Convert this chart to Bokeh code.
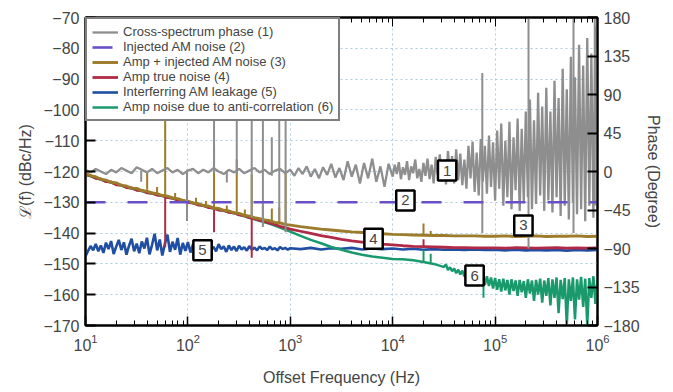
from bokeh.plotting import figure
from bokeh.models import (Range1d, LinearAxis, LogAxis, FixedTicker, Legend, LegendItem,
                          Label, CustomJSTickFormatter)
from bokeh.embed import file_html
from bokeh.resources import INLINE

# ---------------- data ----------------
# (1) Cross-spectrum phase, degrees (right axis)
GRAY_LOGF = [1.00, 1.05, 1.10, 1.15, 1.20, 1.25, 1.30, 1.35, 1.40, 1.45,
             1.50, 1.55, 1.60, 1.65, 1.70, 1.75, 1.80, 1.85, 1.90, 1.95,
             2.00, 2.05, 2.10, 2.15, 2.20, 2.25, 2.30, 2.35, 2.40, 2.45,
             2.50, 2.55, 2.60, 2.65, 2.70, 2.75, 2.80, 2.85, 2.90, 2.95,
             3.00, 3.04, 3.08, 3.12, 3.16, 3.20, 3.24, 3.28, 3.32, 3.36,
             3.40, 3.44, 3.48, 3.52, 3.56, 3.60, 3.64, 3.68, 3.72, 3.76,
             3.80, 3.84, 3.88, 3.92, 3.96,
             4.00, 4.02, 4.04, 4.06, 4.08, 4.10, 4.12, 4.14, 4.16, 4.18,
             4.20, 4.22, 4.24, 4.26, 4.28, 4.30, 4.32, 4.34, 4.36, 4.38,
             4.40, 4.42, 4.44, 4.46, 4.48, 4.50, 4.52, 4.54, 4.56, 4.58,
             4.60, 4.62, 4.64, 4.66, 4.68, 4.70, 4.72, 4.74, 4.76, 4.78,
             4.80, 4.82, 4.84, 4.86, 4.88, 4.90, 4.92, 4.94, 4.96, 4.98,
             5.00, 5.02, 5.04, 5.06, 5.08, 5.10, 5.12, 5.14, 5.16, 5.18,
             5.20, 5.22, 5.24, 5.26, 5.28, 5.30, 5.32, 5.34, 5.36, 5.38,
             5.40, 5.42, 5.44, 5.46, 5.48, 5.50, 5.52, 5.54, 5.56, 5.58,
             5.60, 5.62, 5.64, 5.66, 5.68, 5.70, 5.72, 5.74, 5.76, 5.78,
             5.80, 5.82, 5.84, 5.86, 5.88, 5.90, 5.92, 5.94, 5.96, 5.98,
             6.00]
GRAY_DEG = [2, -1, 3, 0, -3, 2, -1, 4, 1, -2,
            5, 2, -1, 3, -2, 1, 4, -1, 2, -3,
            1, 3, -2, 2, -1, 4, 0, -3, 2, -1,
            3, -2, 1, 4, -1, 2, -3, 1, 3, -2,
            2, -5, 4, -3, 6, -6, 3, -8, 5, -4,
            9, -7, 4, -10, 12, -6, 8, -14, 10, -8,
            15, -12, 6, -18, 9,
            -6, 8, -3, 11, -9, 5, -4, 12, -10, 6,
            -2, 14, -8, 3, -12, 10, -5, 15, -9, 8,
            -14, 17, -4, 20, -12, 12, -15, 24, -6, 18,
            -14, 26, -10, 21, -16, 14, -20, 30, -8, 35,
            -24, 22, -28, 38, -12, 30, -26, 42, -18, 34,
            -34, 48, -20, 56, -40, 36, -30, 58, -44, 40,
            -22, 62, -46, 50, -36, 70, -30, 84, -44, 60,
            -38, 92, -28, 76, -46, 98, -34, 70, -48, 106,
            -30, 86, -52, 120, -40, 96, -56, 134, -36, 110,
            -50, 148, -44, 124, -58, 156, -40, 138, -54, 170,
            -30]
GRAY_SPIKE_F = [35, 98, 180, 240, 300, 420, 540, 660, 780, 900,
                75000, 212000, 583000, 940000]
GRAY_SPIKE_HI = [1, 2, 180, 1, 180, 180, 180, 40, 180, 180, 115, 180, 180, 180]
GRAY_SPIKE_LO = [-12, -58, -2, -13, -3, -54, -65, -5, -58, -71, -72, -90, -72, -40]

# (2) Injected AM noise, dBc/Hz
PURPLE_F = [10, 1000000]
PURPLE_DB = [-130, -130]

# (3) Amp + injected AM noise and (4) Amp true noise, dBc/Hz
AMP_LOGF = [1.00, 1.05, 1.10, 1.15, 1.20, 1.25, 1.30, 1.35, 1.40, 1.45,
            1.50, 1.55, 1.60, 1.65, 1.70, 1.75, 1.80, 1.85, 1.90, 1.95,
            2.00, 2.05, 2.10, 2.15, 2.20, 2.25, 2.30, 2.35, 2.40, 2.45,
            2.50, 2.55, 2.60, 2.65, 2.70, 2.75, 2.80, 2.85, 2.90, 2.95,
            3.00, 3.1, 3.2, 3.3, 3.4, 3.5, 3.6, 3.7, 3.8, 3.9,
            4.0, 4.1, 4.2, 4.3, 4.4, 4.5, 4.6, 4.7, 4.8, 4.9,
            5.0, 5.1, 5.2, 5.3, 5.4, 5.5, 5.6, 5.7, 5.8, 5.9, 6.0]
GOLD_DB = [-120.6, -121.4, -121.7, -122.5, -122.8, -123.5, -123.7, -124.5, -124.7, -125.4,
           -125.5, -126.2, -126.4, -127.0, -127.2, -127.8, -128.0, -128.6, -128.8, -129.4,
           -129.6, -130.2, -130.4, -131.0, -131.2, -131.8, -132.0, -132.6, -132.8, -133.4,
           -133.6, -134.2, -134.5, -135.0, -135.3, -135.7, -136.0, -136.5, -136.7, -137.2,
           -137.4, -137.9, -138.3, -138.7, -139.0, -139.3, -139.6, -139.8, -140.0, -140.2,
           -140.4, -140.5, -140.6, -140.7, -140.8, -140.8, -140.9, -140.9, -140.9, -141.0,
           -141.0, -140.9, -141.1, -141.0, -140.9, -141.1, -141.0, -141.0, -140.9, -141.1, -141.0]
RED_DB = [-121.0, -121.3, -122.2, -122.4, -123.3, -123.4, -124.3, -124.4, -125.2, -125.3,
          -126.1, -126.1, -126.9, -127.0, -127.7, -127.8, -128.5, -128.6, -129.3, -129.4,
          -130.1, -130.2, -130.9, -131.0, -131.7, -131.8, -132.5, -132.6, -133.3, -133.4,
          -134.1, -134.3, -135.0, -135.3, -135.9, -136.2, -136.8, -137.2, -137.8, -138.2,
          -138.7, -139.4, -140.1, -140.8, -141.4, -142.0, -142.5, -142.9, -143.3, -143.6,
          -143.8, -144.1, -144.3, -144.4, -144.5, -144.6, -144.7, -144.7, -144.8, -144.8,
          -144.8, -144.9, -144.7, -144.8, -144.9, -144.8, -144.7, -144.9, -144.8, -144.9, -144.8]
GOLD_SPIKE_F = [40, 50, 60, 75, 120, 150, 180, 240, 300, 360, 420, 540, 660, 780, 900, 20000, 23500]
GOLD_SPIKE_LO = [-125.9, -127.2, -128.0, -128.8, -130.9, -131.7, -132.3, -133.2, -133.9, -134.5,
                 -135.0, -135.7, -136.3, -136.7, -137.2, -140.7, -140.7]
GOLD_SPIKE_HI = [-120.0, -125.0, -70.0, -127.0, -128.5, -129.6, -112.0, -131.0, -116.0, -132.3,
                 -121.0, -131.0, -132.0, -131.7, -120.6, -136.9, -139.3]
RED_SPIKE_F = [60, 180, 420, 20000]
RED_SPIKE_A = [-128.4, -132.4, -135.5, -144.4]
RED_SPIKE_B = [-144.6, -139.7, -148.0, -142.0]

# (5) Interferring AM leakage, dBc/Hz
BLUE_LOGF = [1.000, 1.025, 1.050, 1.075, 1.100, 1.125, 1.150, 1.175, 1.200, 1.225,
             1.250, 1.275, 1.300, 1.325, 1.350, 1.375, 1.400, 1.425, 1.450, 1.475,
             1.500, 1.525, 1.550, 1.575, 1.600, 1.625, 1.650, 1.675, 1.700, 1.725,
             1.750, 1.775, 1.800, 1.825, 1.850, 1.875, 1.900, 1.925, 1.950, 1.975,
             2.000, 2.025, 2.050, 2.075, 2.100, 2.125, 2.150, 2.175, 2.200, 2.225,
             2.250, 2.275, 2.300, 2.325, 2.350, 2.375, 2.400, 2.425, 2.450, 2.475,
             2.500, 2.525, 2.550, 2.575, 2.600, 2.625, 2.650, 2.675, 2.700, 2.725,
             2.750, 2.775, 2.800, 2.825, 2.850, 2.875, 2.900, 2.925, 2.950, 2.975,
             3.000, 3.1, 3.2, 3.3, 3.4, 3.5, 3.6, 3.7, 3.8, 3.9,
             4.0, 4.1, 4.2, 4.3, 4.4, 4.5, 4.6, 4.7, 4.8, 4.9,
             5.0, 5.1, 5.2, 5.3, 5.4, 5.5, 5.6, 5.7, 5.8, 5.9, 6.0]
BLUE_DB = [-147.5, -145.8, -144.2, -145.6, -143.5, -145.9, -144.0, -146.4, -143.1, -145.2,
           -142.6, -146.8, -144.4, -142.2, -145.5, -143.0, -147.0, -144.1, -141.8, -145.9,
           -143.4, -146.5, -142.7, -145.0, -141.5, -146.9, -143.8, -140.2, -145.6, -142.1,
           -147.3, -143.5, -140.5, -146.1, -142.8, -145.4, -141.6, -147.0, -143.2, -145.8,
           -142.9, -146.3, -143.6, -145.1, -143.9, -145.6, -144.2, -146.0, -143.8, -145.4,
           -144.5, -145.9, -143.6, -145.2, -144.3, -146.1, -144.0, -145.5, -144.4, -145.8,
           -144.1, -145.3, -144.6, -145.7, -144.2, -145.4, -144.7, -145.6, -144.3, -145.2,
           -144.8, -145.5, -144.4, -145.3, -144.9, -145.6, -144.5, -145.2, -144.8, -145.4,
           -144.9, -145.2, -144.8, -145.3, -144.9, -145.1, -144.8, -145.3, -145.0, -145.2,
           -145.0, -145.3, -145.1, -145.4, -145.2, -145.4, -145.3, -145.5, -145.3, -145.5,
           -145.4, -145.6, -145.4, -145.6, -145.5, -145.6, -145.5, -145.7, -145.5, -145.6, -145.5]

# (6) Amp noise due to anti-correlation, dBc/Hz
GREEN_LOGF = [1.0, 1.1, 1.2, 1.3, 1.4, 1.5, 1.6, 1.7, 1.8, 1.9,
              2.0, 2.1, 2.2, 2.3, 2.4, 2.5, 2.6, 2.7, 2.8, 2.9,
              3.0, 3.1, 3.2, 3.3, 3.4, 3.5, 3.6, 3.7, 3.8, 3.9,
              4.0, 4.1, 4.2, 4.3, 4.4, 4.48,
              4.50, 4.52, 4.54, 4.56, 4.58, 4.60, 4.62, 4.64, 4.66, 4.68,
              4.70, 4.72, 4.74, 4.76, 4.78, 4.80, 4.82, 4.84, 4.86, 4.88,
              4.90, 4.92, 4.94, 4.96, 4.98, 5.00, 5.02, 5.04, 5.06, 5.08,
              5.10, 5.12, 5.14, 5.16, 5.18, 5.20, 5.22, 5.24, 5.26, 5.28,
              5.30, 5.32, 5.34, 5.36, 5.38, 5.40, 5.42, 5.44, 5.46, 5.48,
              5.50, 5.52, 5.54, 5.56, 5.58, 5.60, 5.62, 5.64, 5.66, 5.68,
              5.70, 5.72, 5.74, 5.76, 5.78, 5.80, 5.82, 5.84, 5.86, 5.88,
              5.90, 5.92, 5.94, 5.96, 5.98, 6.00]
GREEN_DB = [-121.0, -122.1, -123.2, -124.1, -125.1, -125.9, -126.8, -127.6, -128.4, -129.2,
            -129.9, -130.7, -131.6, -132.4, -133.2, -134.0, -135.0, -136.0, -137.0, -138.2,
            -139.5, -140.9, -142.2, -143.3, -144.5, -145.4, -146.3, -147.0, -147.6, -148.0,
            -148.4, -148.5, -148.8, -149.4, -150.0, -150.8,
            -151.0, -150.2, -152.0, -151.1, -152.4, -151.5, -153.0, -151.9, -153.4, -152.2,
            -154.0, -152.5, -154.3, -152.8, -155.2, -153.0, -155.6, -153.4, -156.0, -153.2,
            -156.8, -154.0, -157.2, -154.4, -158.0, -154.6, -158.4, -155.0, -159.0, -154.8,
            -158.6, -155.2, -160.0, -155.0, -158.8, -155.4, -160.4, -155.2, -159.2, -155.6,
            -161.0, -155.0, -159.6, -155.4, -162.0, -155.2, -160.0, -154.8, -162.6, -155.4,
            -160.4, -154.6, -163.5, -155.0, -161.0, -154.4, -166.0, -155.2, -161.4, -154.6,
            -170.0, -155.0, -162.0, -154.4, -168.0, -155.0, -161.6, -154.2, -164.0, -154.8,
            -170.0, -154.6, -161.0, -154.0, -163.0, -155.0]
GREEN_SPIKE_F = [20000, 23500, 77000]
GREEN_SPIKE_A = [-149.4, -149.8, -155.0]
GREEN_SPIKE_B = [-145.5, -146.7, -161.0]

# callout numbers
CALLOUT_TEXT = ["1", "2", "3", "4", "5", "6"]
CALLOUT_F = [34000, 13300, 189000, 6500, 139, 63000]
CALLOUT_DB = [-119.7, -129.4, -137.5, -141.8, -145.6, -153.8]

LEGEND_LABELS = ["Cross-spectrum phase (1)", "Injected AM noise (2)",
                 "Amp + injected AM noise (3)", "Amp true noise (4)",
                 "Interferring AM leakage (5)", "Amp noise due to anti-correlation (6)"]

X_MAJOR = [10, 100, 1000, 10000, 100000, 1000000]
X_MINOR = [m * d for d in [10, 100, 1000, 10000, 100000] for m in range(2, 10)]
Y_TICKS = [-170, -160, -150, -140, -130, -120, -110, -100, -90, -80, -70]
PHASE_TICKS = [-180, -135, -90, -45, 0, 45, 90, 135, 180]

for a, b in [(GRAY_LOGF, GRAY_DEG), (AMP_LOGF, GOLD_DB), (AMP_LOGF, RED_DB),
             (BLUE_LOGF, BLUE_DB), (GREEN_LOGF, GREEN_DB)]:
    assert len(a) == len(b), (len(a), len(b))

# ---------------- styling ----------------
FONT = "Liberation Sans"
C_GRAY = "#8e8e8e"
C_PURPLE = "#6a50c8"
C_GOLD = "#9c7c2a"
C_RED = "#b02a46"
C_BLUE = "#1f4ea3"
C_GREEN = "#1a9a6c"
GRID = "#a9cde3"

p = figure(width=673, height=392, x_axis_type="log",
           x_range=Range1d(10, 1000000), y_range=Range1d(-170, -70),
           output_backend="svg", toolbar_location=None,
           min_border_left=85, min_border_right=76, min_border_top=17, min_border_bottom=67)
p.extra_y_ranges = {"phase": Range1d(-180, 180)}
p.background_fill_color = "white"
p.border_fill_color = "white"
p.outline_line_color = "black"
p.outline_line_width = 2

xt = FixedTicker(ticks=X_MAJOR, minor_ticks=X_MINOR)
xa = p.xaxis[0]
xa.ticker = xt
xa.major_tick_in = 9
xa.major_tick_out = 0
xa.minor_tick_in = 5
xa.minor_tick_out = 0
xa.axis_line_width = 2
xa.major_tick_line_width = 1.5
xa.major_label_text_font = FONT
xa.major_label_text_font_size = "16px"
xa.major_label_standoff = 8
xa.axis_label = "Offset Frequency (Hz)"
xa.axis_label_text_font = FONT
xa.axis_label_text_font_size = "16px"
xa.axis_label_text_font_style = "normal"
xa.axis_label_standoff = 15

ya = p.yaxis[0]
ya.ticker = FixedTicker(ticks=Y_TICKS)
ya.major_tick_in = 10
ya.major_tick_out = 0
ya.minor_tick_in = 0
ya.minor_tick_out = 0
ya.axis_line_width = 2
ya.major_tick_line_width = 2
ya.major_label_text_font = FONT
ya.major_label_text_font_size = "16px"
ya.major_label_standoff = 6
ya.axis_label = "\u2112(f) (dBc/Hz)"
ya.axis_label_text_font = FONT
ya.axis_label_text_font_size = "16px"
ya.axis_label_text_font_style = "normal"
ya.axis_label_standoff = 6

ra = LinearAxis(y_range_name="phase", ticker=FixedTicker(ticks=PHASE_TICKS),
                axis_label="Phase (Degree)")
ra.major_tick_in = 10
ra.major_tick_out = 0
ra.minor_tick_in = 0
ra.minor_tick_out = 0
ra.axis_line_width = 2
ra.major_tick_line_width = 2
ra.major_label_text_font = FONT
ra.major_label_text_font_size = "16px"
ra.major_label_standoff = 6
ra.axis_label_text_font = FONT
ra.axis_label_text_font_size = "16px"
ra.axis_label_text_font_style = "normal"
ra.axis_label_standoff = 2
p.add_layout(ra, "right")

ta = LogAxis(ticker=xt, formatter=CustomJSTickFormatter(code="return ''"))
ta.major_tick_in = 9
ta.major_tick_out = 0
ta.minor_tick_in = 5
ta.minor_tick_out = 0
ta.axis_line_width = 2
ta.major_label_text_font_size = "0px"
ta.major_label_standoff = 0
p.add_layout(ta, "above")

p.xgrid.grid_line_color = GRID
p.xgrid.grid_line_dash = "2 3"
p.ygrid.grid_line_color = GRID
p.ygrid.grid_line_dash = "2 3"
p.ygrid.ticker = FixedTicker(ticks=Y_TICKS)

def f_of(logs):
    return [10 ** v for v in logs]

# series (drawing order: blue, green, red, gold, gray, purple)
r_blue = p.line(f_of(BLUE_LOGF), BLUE_DB, line_color=C_BLUE, line_width=2.6)
r_green = p.line(f_of(GREEN_LOGF), GREEN_DB, line_color=C_GREEN, line_width=2.5)
p.segment(GREEN_SPIKE_F, GREEN_SPIKE_A, GREEN_SPIKE_F, GREEN_SPIKE_B, line_color=C_GREEN, line_width=2)
r_red = p.line(f_of(AMP_LOGF), RED_DB, line_color=C_RED, line_width=2.8)
p.segment(RED_SPIKE_F, RED_SPIKE_A, RED_SPIKE_F, RED_SPIKE_B, line_color=C_RED, line_width=2)
r_gold = p.line(f_of(AMP_LOGF), GOLD_DB, line_color=C_GOLD, line_width=2.9)
p.segment(GOLD_SPIKE_F, GOLD_SPIKE_LO, GOLD_SPIKE_F, GOLD_SPIKE_HI, line_color=C_GOLD, line_width=2)
r_gray = p.line(f_of(GRAY_LOGF), GRAY_DEG, line_color=C_GRAY, line_width=2.3, y_range_name="phase")
p.segment(GRAY_SPIKE_F, GRAY_SPIKE_LO, GRAY_SPIKE_F, GRAY_SPIKE_HI, line_color=C_GRAY,
          line_width=2, y_range_name="phase")
r_purple = p.line(PURPLE_F, PURPLE_DB, line_color=C_PURPLE, line_width=2.6, line_dash="20 22")

for t, fx, dy in zip(CALLOUT_TEXT, CALLOUT_F, CALLOUT_DB):
    p.add_layout(Label(x=fx, y=dy, text=t, text_align="center", text_baseline="middle",
                       text_font=FONT, text_font_size="15px",
                       background_fill_color="white", border_line_color="black",
                       border_line_width=2.5, padding=5))

legend = Legend(items=[LegendItem(label=lab, renderers=[r]) for lab, r in
                       zip(LEGEND_LABELS, [r_gray, r_purple, r_gold, r_red, r_blue, r_green])],
                location="top_left", margin=0, padding=5, spacing=0,
                label_height=14, glyph_height=14, glyph_width=26, label_standoff=5,
                label_text_font=FONT, label_text_font_size="13px",
                border_line_color="black", border_line_width=2,
                background_fill_color="white", background_fill_alpha=1.0)
p.add_layout(legend)

open("out.html", "w").write(file_html(p, INLINE))
